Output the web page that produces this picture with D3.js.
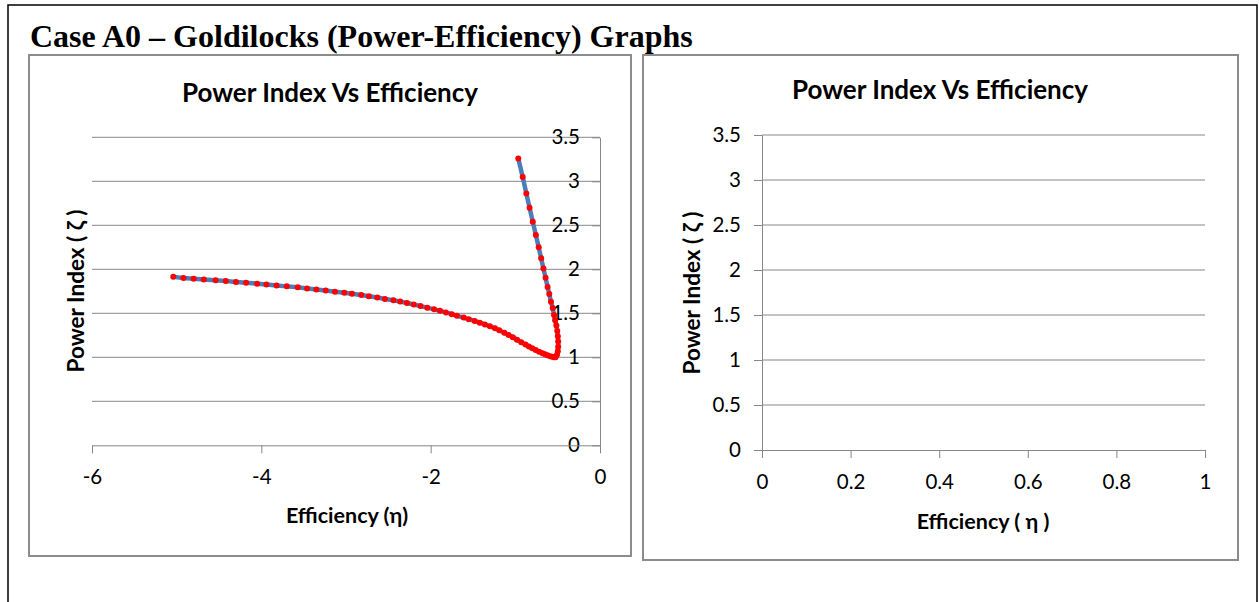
<!DOCTYPE html>
<html>
<head>
<meta charset="utf-8">
<script src="https://cdn.jsdelivr.net/npm/d3@7"></script>
<style>
  body { margin: 0; background: #fff; }
  svg { display: block; }
  .tick text { fill: #000; }
</style>
</head>
<body>
<svg id="page" width="1259" height="602"></svg>
<script>
// Power index (zeta) against efficiency (eta), traced from the far left end,
// through the turning point near eta = -0.5, and up the steep branch.
const eta = [
  -5.04, -4.92, -4.80, -4.68, -4.54, -4.42, -4.30, -4.18, -4.05, -3.94,
  -3.82, -3.70, -3.57, -3.46, -3.35, -3.24, -3.13, -3.02, -2.93, -2.82,
  -2.73, -2.63, -2.54, -2.44, -2.36, -2.28, -2.20, -2.12, -2.04, -1.96,
  -1.89, -1.82, -1.75, -1.69, -1.61, -1.55, -1.48, -1.42, -1.36, -1.30,
  -1.24, -1.19, -1.13, -1.08, -1.03, -0.98, -0.93, -0.88, -0.84, -0.80,
  -0.76, -0.72, -0.68, -0.65, -0.62, -0.59, -0.565, -0.545, -0.525,
  -0.508, -0.498, -0.494, -0.494, -0.498, -0.505, -0.515, -0.530, -0.543,
  -0.559, -0.579, -0.599, -0.619, -0.643, -0.668, -0.695, -0.724, -0.758,
  -0.794, -0.832, -0.870, -0.913, -0.965
];
const zeta = [
  1.914, 1.902, 1.893, 1.884, 1.875, 1.866, 1.857, 1.847, 1.837, 1.827,
  1.817, 1.806, 1.795, 1.783, 1.771, 1.759, 1.746, 1.733, 1.721, 1.707,
  1.694, 1.679, 1.662, 1.648, 1.633, 1.617, 1.600, 1.582, 1.564, 1.545,
  1.528, 1.510, 1.490, 1.471, 1.452, 1.432, 1.413, 1.393, 1.373, 1.352,
  1.331, 1.308, 1.280, 1.254, 1.228, 1.200, 1.172, 1.146, 1.124, 1.103,
  1.083, 1.064, 1.047, 1.034, 1.022, 1.012, 1.005, 1.001, 1.000,
  1.03, 1.07, 1.12, 1.18, 1.24, 1.30, 1.36, 1.42, 1.48,
  1.56, 1.63, 1.72, 1.80, 1.905, 2.01, 2.125, 2.25, 2.39,
  2.54, 2.70, 2.86, 3.05, 3.26
];

const yTicks = [0, 0.5, 1, 1.5, 2, 2.5, 3, 3.5];
const xTicksLeft = [-6, -4, -2, 0];
const xTicksRight = [0, 0.2, 0.4, 0.6, 0.8, 1];

const heading = "Case A0 \u2013 Goldilocks (Power-Efficiency) Graphs";
const chartTitle = "Power Index Vs Efficiency";
const yTitle = "Power Index ( \u03B6 )";
const xTitleLeft = "Efficiency (\u03B7)";
const xTitleRight = "Efficiency ( \u03B7 )";

const points = eta.map((e, i) => ({ eta: e, zeta: zeta[i] }));

const svg = d3.select("#page");
const GRID = "#878787";
const FRAME = "#8c8c8c";
const UI_FONT = "Lato, 'Open Sans', sans-serif";

// page frame and heading
svg.append("rect")
  .attr("x", 8).attr("y", 5).attr("width", 1249).attr("height", 700)
  .attr("fill", "none").attr("stroke", "#000").attr("stroke-width", 1.5);

svg.append("text")
  .attr("x", 30).attr("y", 47)
  .attr("font-family", "'Liberation Serif', 'Times New Roman', serif")
  .attr("font-weight", "bold").attr("font-size", 32)
  .text(heading);

function drawPanel(p) {
  const g = svg.append("g");

  g.append("rect")
    .attr("x", p.box[0]).attr("y", p.box[1])
    .attr("width", p.box[2] - p.box[0]).attr("height", p.box[3] - p.box[1])
    .attr("fill", "#fff").attr("stroke", FRAME).attr("stroke-width", 2);

  const x = d3.scaleLinear().domain(p.xDomain).range(p.xRange);
  const y = d3.scaleLinear().domain([0, 3.5]).range(p.yRange);

  // horizontal gridlines
  g.append("g").selectAll("line")
    .data(yTicks.filter(t => t > 0))
    .join("line")
    .attr("x1", p.xRange[0]).attr("x2", p.xRange[1])
    .attr("y1", d => y(d)).attr("y2", d => y(d))
    .attr("stroke", GRID).attr("stroke-width", 1);

  // value axis
  const yAxis = d3.axisLeft(y).tickValues(yTicks).tickSize(8).tickSizeOuter(0)
    .tickPadding(p.yPad);
  const ya = g.append("g").attr("transform", `translate(${p.yAxisAt},0)`).call(yAxis);

  // efficiency axis
  const xAxis = d3.axisBottom(x).tickValues(p.xTicks).tickSize(8).tickSizeOuter(0)
    .tickPadding(p.xPad);
  const xa = g.append("g").attr("transform", `translate(0,${p.yRange[0]})`).call(xAxis);

  [ya, xa].forEach(a => {
    a.attr("font-family", null).attr("font-size", null);
    a.selectAll("path.domain").attr("stroke", GRID).attr("stroke-width", 1);
    a.selectAll(".tick line").attr("stroke", GRID).attr("stroke-width", 1);
    a.selectAll(".tick text").attr("font-family", UI_FONT).attr("font-size", 20.5)
      .text(d => String(d));
  });

  // titles
  g.append("text")
    .attr("x", p.title[0]).attr("y", p.title[1])
    .attr("text-anchor", "middle").attr("dominant-baseline", "central")
    .attr("font-family", UI_FONT).attr("font-weight", "bold").attr("font-size", 26)
    .text(chartTitle);

  g.append("text")
    .attr("transform", `translate(${p.yTitle[0]},${p.yTitle[1]}) rotate(-90)`)
    .attr("text-anchor", "middle").attr("dominant-baseline", "central")
    .attr("font-family", UI_FONT).attr("font-weight", "bold").attr("font-size", 22.5)
    .text(yTitle);

  g.append("text")
    .attr("x", p.xTitle[0]).attr("y", p.xTitle[1])
    .attr("text-anchor", "middle").attr("dominant-baseline", "central")
    .attr("font-family", UI_FONT).attr("font-weight", "bold").attr("font-size", 21.5)
    .text(p.xTitleText);

  return { g, x, y };
}

// left panel: the traced curve
const left = drawPanel({
  box: [29, 55, 631, 556],
  xDomain: [-6, 0], xRange: [92, 600],
  yRange: [445.3, 137.3],
  yAxisAt: 600, yPad: 12, xPad: 16,
  xTicks: xTicksLeft,
  title: [330, 92], yTitle: [75, 291], xTitle: [347, 515],
  xTitleText: xTitleLeft
});

const line = d3.line().x(d => left.x(d.eta)).y(d => left.y(d.zeta));
left.g.append("path")
  .datum(points)
  .attr("d", line)
  .attr("fill", "none").attr("stroke", "#4a7ebb").attr("stroke-width", 4.5)
  .attr("stroke-linejoin", "round");

left.g.append("g").selectAll("circle")
  .data(points)
  .join("circle")
  .attr("cx", d => left.x(d.eta)).attr("cy", d => left.y(d.zeta))
  .attr("r", 3).attr("fill", "#ff0000");

// right panel: empty axes
drawPanel({
  box: [643, 55, 1238, 560],
  xDomain: [0, 1], xRange: [762, 1205],
  yRange: [450, 135],
  yAxisAt: 762, yPad: 13, xPad: 16,
  xTicks: xTicksRight,
  title: [940, 89], yTitle: [691, 293], xTitle: [983, 521],
  xTitleText: xTitleRight
});
</script>
</body>
</html>
